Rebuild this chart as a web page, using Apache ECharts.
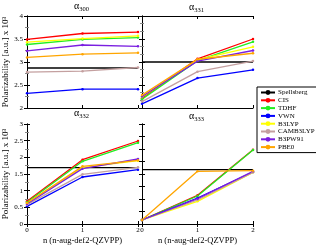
<!DOCTYPE html>
<html><head><meta charset="utf-8">
<script src="https://cdn.jsdelivr.net/npm/echarts@6/dist/echarts.min.js"></script>
<style>html,body{margin:0;padding:0;background:#fff}#c{width:316px;height:246px}</style>
</head><body><div id="c"></div>
<script>
const xs = [0, 1, 2];
const methods = ['CIS', 'TDHF', 'VWN', 'B3LYP', 'CAMB3LYP', 'B3PW91', 'PBE0'];
const panelTitles = ['300', '331', '332', '333'];
const spellsberg = [2.87, 3.0, 1.69, 1.63];
const a300 = {
  CIS: [3.49, 3.62, 3.65], TDHF: [3.38, 3.49, 3.53], VWN: [2.32, 2.41, 2.41],
  B3LYP: [3.43, 3.51, 3.57], CAMB3LYP: [2.78, 2.80, 2.88], B3PW91: [3.24, 3.37, 3.34], PBE0: [3.10, 3.17, 3.20]
};
const a331 = {
  CIS: [2.21, 3.07, 3.50], TDHF: [2.19, 3.03, 3.44], VWN: [2.09, 2.65, 2.83],
  B3LYP: [2.24, 3.05, 3.33], CAMB3LYP: [2.14, 2.79, 3.02], B3PW91: [2.25, 3.02, 3.25], PBE0: [2.28, 3.06, 3.19]
};
const a332 = {
  CIS: [0.68, 1.93, 2.49], TDHF: [0.65, 1.88, 2.44], VWN: [0.53, 1.41, 1.63],
  B3LYP: [0.62, 1.69, 1.90], CAMB3LYP: [0.58, 1.49, 1.70], B3PW91: [0.60, 1.66, 1.95], PBE0: [0.63, 1.73, 1.91]
};
const a333 = {
  CIS: [0.12, 0.86, 2.23], TDHF: [0.12, 0.84, 2.22], VWN: [0.12, 0.78, 1.56],
  B3LYP: [0.12, 0.68, 1.55], CAMB3LYP: [0.12, 0.72, 1.55], B3PW91: [0.12, 0.76, 1.58], PBE0: [0.12, 1.58, 1.60]
};
const yTicksTop = ['2', '2.5', '3', '3.5', '4'];
const yTicksBottom = ['0', '0.5', '1', '1.5', '2', '2.5', '3'];

const panels = [a300, a331, a332, a333];
const colors = {
  Spellsberg: '#000000', CIS: '#ff0000', TDHF: '#22ee22', VWN: '#0000ff',
  B3LYP: '#ffff00', CAMB3LYP: '#c4a0a0', B3PW91: '#7a1fe0', PBE0: '#ffa500'
};
const FONT = 'Liberation Serif';
const grids = [
  {left: 27, top: 16, width: 111, height: 92},
  {left: 142, top: 16, width: 111, height: 92},
  {left: 27, top: 124, width: 111, height: 103},
  {left: 142, top: 124, width: 111, height: 103}
];
const yRange = [
  {min: 2, max: 4, interval: 0.5, minor: 2},
  {min: 2, max: 4, interval: 0.5, minor: 3},
  {min: 0, max: 3, interval: 0.5, minor: 2},
  {min: 0, max: 3, interval: 0.375, minor: 1}
];
const xAxes = [], yAxes = [], series = [];
const axLine = {show: true, lineStyle: {color: '#000', width: 1}};
for (let i = 0; i < 4; i++) {
  const bottomRow = i >= 2, leftCol = i % 2 === 0;
  xAxes.push({
    type: 'value', gridIndex: i, min: 0, max: 2, interval: 1, position: 'bottom',
    axisLine: axLine, axisTick: {show: true, inside: true, length: 3, lineStyle: {color: '#000'}},
    axisLabel: {show: bottomRow, fontFamily: FONT, fontSize: 7, color: '#000', margin: 3},
    splitLine: {show: false},
    name: bottomRow ? 'n (n-aug-def2-QZVPP)' : '', nameLocation: 'middle', nameGap: 12,
    nameTextStyle: {fontFamily: FONT, fontSize: 8.5, color: '#000'}
  });
  xAxes.push({
    type: 'value', gridIndex: i, min: 0, max: 2, interval: 1, position: 'top',
    axisLine: axLine, axisTick: {show: true, inside: true, length: 3, lineStyle: {color: '#000'}},
    axisLabel: {show: false}, splitLine: {show: false}
  });
  const yr = yRange[i];
  yAxes.push({
    type: 'value', gridIndex: i, min: yr.min, max: yr.max, interval: yr.interval, position: 'left',
    axisLine: axLine, axisTick: {show: true, inside: true, length: 3, lineStyle: {color: '#000'}},
    minorTick: {show: true, splitNumber: yr.minor, length: 2, lineStyle: {color: '#888'}},
    axisLabel: {show: leftCol, fontFamily: FONT, fontSize: 7, color: '#000', margin: 4,
      formatter: v => String(+v.toFixed(2))},
    splitLine: {show: false},
    name: leftCol ? 'Polarizability [a.u.] x 10³' : '', nameLocation: 'middle', nameGap: 13, nameRotate: 90,
    nameTextStyle: {fontFamily: FONT, fontSize: 9, color: '#000'}
  });
  yAxes.push({
    type: 'value', gridIndex: i, min: yr.min, max: yr.max, interval: yr.interval, position: 'right',
    axisLine: axLine, axisTick: {show: true, inside: true, length: 3, lineStyle: {color: '#000'}},
    minorTick: {show: true, splitNumber: yr.minor, length: 2, lineStyle: {color: '#888'}},
    axisLabel: {show: false}, splitLine: {show: false}
  });
  series.push({
    name: 'Spellsberg', type: 'line', xAxisIndex: 2 * i, yAxisIndex: 2 * i,
    data: [[0, spellsberg[i]], [2, spellsberg[i]]], symbol: 'none',
    lineStyle: {color: colors.Spellsberg, width: 1.3}, itemStyle: {color: colors.Spellsberg},
    silent: true, animation: false
  });
  methods.forEach(m => {
    series.push({
      name: m, type: 'line', xAxisIndex: 2 * i, yAxisIndex: 2 * i,
      data: panels[i][m].map((v, k) => [xs[k], v]),
      symbol: 'circle', symbolSize: 2.5,
      lineStyle: {color: colors[m], width: 1.3}, itemStyle: {color: colors[m]},
      animation: false
    });
  });
}
const titleText = (sub, x, y) => ({
  type: 'text', left: x, top: y,
  style: {
    text: '{a|α}{b|' + sub + '}',
    rich: {
      a: {fontFamily: FONT, fontSize: 10, fill: '#000'},
      b: {fontFamily: FONT, fontSize: 6.5, fill: '#000', padding: [7, 0, 0, 0]}
    }
  }
});
const chart = echarts.init(document.getElementById('c'), null, {renderer: 'canvas'});
chart.setOption({
  backgroundColor: '#fff',
  animation: false,
  grid: grids,
  xAxis: xAxes,
  yAxis: yAxes,
  series: series,
  legend: {
    orient: 'vertical', left: 257, top: 87,
    data: ['Spellsberg'].concat(methods),
    backgroundColor: '#fff', borderColor: '#000', borderWidth: 1,
    padding: [2, 4, 2, 3], itemGap: 0.8, itemWidth: 14, itemHeight: 6,
    textStyle: {fontFamily: FONT, fontSize: 7, color: '#000', padding: [0, 0, 0, -2]},
    selectedMode: false
  },
  graphic: [
    titleText(panelTitles[0], 74, 1),
    titleText(panelTitles[1], 189, 2),
    titleText(panelTitles[2], 74, 108),
    titleText(panelTitles[3], 189, 111)
  ]
});
</script></body></html>
